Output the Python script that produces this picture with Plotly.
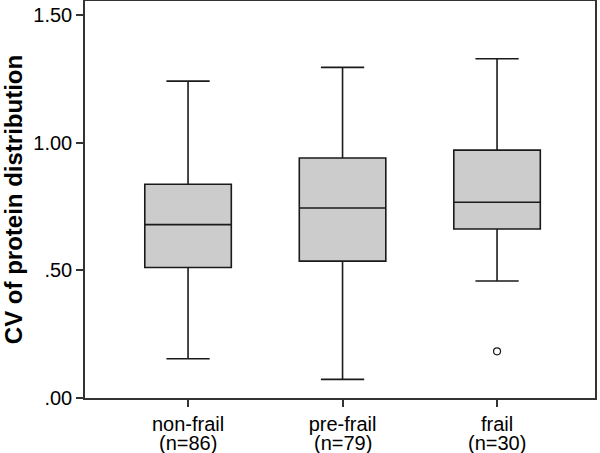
import plotly.graph_objects as go

categories = ["non-frail", "pre-frail", "frail"]
n_labels = ["(n=86)", "(n=79)", "(n=30)"]
positions = [0, 1, 2]
q1 = [0.511, 0.536, 0.662]
median = [0.679, 0.744, 0.767]
q3 = [0.837, 0.940, 0.971]
lower = [0.154, 0.073, 0.458]
upper = [1.241, 1.295, 1.329]
outlier_x = [2]
outlier_y = [0.183]
y_ticks = [0.0, 0.5, 1.0, 1.5]
y_tick_text = [".00", ".50", "1.00", "1.50"]

FONT = "Liberation Sans, Arial, sans-serif"

fig = go.Figure()
fig.add_trace(go.Box(
    x=positions, q1=q1, median=median, q3=q3,
    lowerfence=lower, upperfence=upper,
    width=0.56, whiskerwidth=0.5,
    fillcolor="#cccccc", line=dict(color="#1a1a1a", width=1.6),
    boxpoints=False, showlegend=False, hoverinfo="skip",
))
fig.add_trace(go.Scatter(
    x=outlier_x, y=outlier_y, mode="markers",
    marker=dict(symbol="circle-open", size=7, color="#1a1a1a", line=dict(width=1.2)),
    showlegend=False, hoverinfo="skip",
))

for xp, t in zip(positions, n_labels):
    fig.add_annotation(x=xp, y=0, xref="x", yref="paper", yanchor="top",
                       yshift=-32, text=t, showarrow=False,
                       font=dict(family=FONT, size=20, color="#000000"))

fig.update_layout(
    width=600, height=453,
    margin=dict(l=85, r=5, t=1, b=55),
    paper_bgcolor="white", plot_bgcolor="white",
    font=dict(family=FONT, size=20, color="#000000"),
)
fig.update_xaxes(
    range=[-0.667, 2.634], tickvals=positions, ticktext=categories,
    showgrid=False, zeroline=False, showline=True, mirror=True,
    linecolor="#333333", linewidth=1.5, automargin=False,
    ticks="outside", ticklen=7, tickcolor="#333333", tickwidth=1.5,
    tickfont=dict(size=20),
)
fig.update_yaxes(
    range=[0, 1.555], tickvals=y_ticks, ticktext=y_tick_text,
    showgrid=False, zeroline=False, showline=True, mirror=True,
    linecolor="#333333", linewidth=1.5, automargin=False,
    ticks="outside", ticklen=7, tickcolor="#333333", tickwidth=1.5,
    tickfont=dict(size=20),
    title=dict(text="<b>CV of protein distribution</b>", font=dict(size=24), standoff=14),
)

fig.write_html("out.html", config={"displayModeBar": False},
               post_script="document.body.style.margin='0';document.body.style.overflow='hidden';")
